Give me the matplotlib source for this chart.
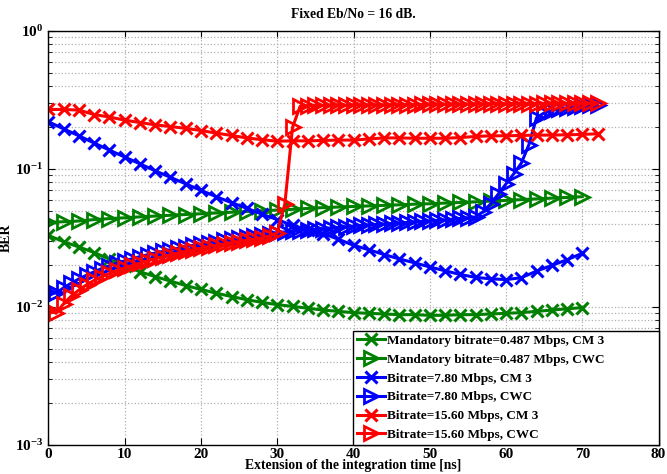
import numpy as np
import matplotlib
matplotlib.use("Agg")
import matplotlib.pyplot as plt
from matplotlib.ticker import LogLocator, FixedLocator, NullFormatter

# Fixed Eb/No = 16 dB -- BER vs extension of the integration time

plt.rcParams['font.family'] = 'Liberation Serif'
plt.rcParams['font.weight'] = 'bold'
plt.rcParams['mathtext.fontset'] = 'custom'
plt.rcParams['mathtext.rm'] = 'Liberation Serif:bold'
plt.rcParams['mathtext.bf'] = 'Liberation Serif:bold'
plt.rcParams['mathtext.it'] = 'Liberation Serif:bold'

# x values (ns)
x_step2 = list(range(0, 71, 2))
x_step2_red = list(range(0, 73, 2))
x_step1 = list(range(0, 73))

green_cm3 = [0.033, 0.0297, 0.0272, 0.0248, 0.0222, 0.0198, 0.0180, 0.0166,
             0.0154, 0.0143, 0.0134, 0.0126, 0.0119, 0.0113, 0.0108, 0.0104,
             0.0101, 0.0098, 0.0095, 0.0093, 0.0091, 0.0090, 0.0089, 0.0088,
             0.0088, 0.0087, 0.0087, 0.0088, 0.0088, 0.0089, 0.0090, 0.0091,
             0.0093, 0.0095, 0.0097, 0.0099]

green_cwc = [0.041, 0.0415, 0.042, 0.043, 0.0437, 0.0443, 0.045, 0.0456,
             0.0462, 0.0468, 0.0474, 0.048, 0.0486, 0.0492, 0.0498, 0.0504,
             0.051, 0.0518, 0.0525, 0.053, 0.0535, 0.054, 0.0545, 0.055,
             0.0556, 0.056, 0.0566, 0.0572, 0.0578, 0.0585, 0.0592, 0.060,
             0.0607, 0.0615, 0.0622, 0.063]

blue_cm3 = [0.22, 0.195, 0.174, 0.154, 0.137, 0.122, 0.109, 0.097, 0.087,
            0.078, 0.070, 0.063, 0.057, 0.052, 0.047, 0.043, 0.039, 0.036,
            0.034, 0.031, 0.028, 0.026, 0.024, 0.0223, 0.0209, 0.0195, 0.0183,
            0.0172, 0.0164, 0.0160, 0.0158, 0.0163, 0.0182, 0.0200, 0.0220,
            0.0245]

blue_cwc = [0.0128, 0.0126, 0.0138, 0.0149, 0.016, 0.017, 0.018, 0.019,
            0.0199, 0.0208, 0.0216, 0.0224, 0.0232, 0.0239, 0.0246, 0.0253,
            0.026, 0.0267, 0.0274, 0.028, 0.0286, 0.0292, 0.0298, 0.0304,
            0.031, 0.0316, 0.0322, 0.0328, 0.0334, 0.034, 0.0346, 0.035,
            0.0354, 0.0358, 0.0362, 0.0366, 0.037, 0.0374, 0.0378, 0.0382,
            0.0386, 0.039, 0.0393, 0.0397, 0.04, 0.0403, 0.0406, 0.041,
            0.0413, 0.0417, 0.042, 0.0424, 0.0428, 0.0433, 0.0438, 0.0443,
            0.0449, 0.049, 0.056, 0.066, 0.078, 0.092, 0.11, 0.15, 0.235,
            0.255, 0.265, 0.272, 0.278, 0.283, 0.287, 0.29, 0.293]

red_cm3 = [0.27, 0.27, 0.267, 0.248, 0.238, 0.226, 0.217, 0.209, 0.203,
           0.197, 0.19, 0.182, 0.175, 0.168, 0.163, 0.159, 0.16, 0.16, 0.161,
           0.162, 0.162, 0.165, 0.168, 0.168, 0.167, 0.167, 0.167, 0.169,
           0.172, 0.174, 0.174, 0.175, 0.176, 0.176, 0.177, 0.178, 0.18]

red_cwc = [0.0095, 0.009, 0.0106, 0.012, 0.0133, 0.0145, 0.0156, 0.0166,
           0.0175, 0.0184, 0.0192, 0.02, 0.0208, 0.0216, 0.0224, 0.0232,
           0.0239, 0.0246, 0.0253, 0.026, 0.0267, 0.0274, 0.028, 0.0286,
           0.0292, 0.0298, 0.0304, 0.031, 0.0318, 0.0326, 0.0345, 0.056,
           0.2, 0.285, 0.288, 0.289, 0.289, 0.29, 0.29, 0.29, 0.291, 0.291,
           0.291, 0.292, 0.292, 0.292, 0.293, 0.293, 0.293, 0.294, 0.294,
           0.294, 0.295, 0.295, 0.295, 0.296, 0.296, 0.296, 0.297, 0.297,
           0.297, 0.298, 0.298, 0.298, 0.298, 0.299, 0.299, 0.299, 0.299,
           0.3, 0.3, 0.3, 0.3]

labels = ['Mandatory bitrate=0.487 Mbps, CM 3',
          'Mandatory bitrate=0.487 Mbps, CWC',
          'Bitrate=7.80 Mbps, CM 3',
          'Bitrate=7.80 Mbps, CWC',
          'Bitrate=15.60 Mbps, CM 3',
          'Bitrate=15.60 Mbps, CWC']

green = '#008000'
blue = '#0000ff'
red = '#ff0000'

fig = plt.figure(figsize=(6.67, 4.74), dpi=100)
ax = fig.add_axes([0.0727, 0.0612, 0.9146, 0.8734])

lw = 2.2
xkw = dict(marker='x', markersize=8, markeredgewidth=2.2, linewidth=lw)
tkw = dict(marker='>', markersize=10, markeredgewidth=2.0,
           markerfacecolor='none', linewidth=lw)

ax.plot(x_step2, green_cm3, color=green, label=labels[0], **xkw)
ax.plot(x_step2, green_cwc, color=green, label=labels[1], **tkw)
ax.plot(x_step2, blue_cm3, color=blue, label=labels[2], **xkw)
ax.plot(x_step1, blue_cwc, color=blue, label=labels[3], **tkw)
ax.plot(x_step2_red, red_cm3, color=red, label=labels[4], **xkw)
ax.plot(x_step1, red_cwc, color=red, label=labels[5], **tkw)

ax.set_yscale('log')
ax.set_xlim(0, 80)
ax.set_ylim(1e-3, 1)
ax.xaxis.set_major_locator(FixedLocator(range(0, 81, 10)))
ax.yaxis.set_major_locator(LogLocator(base=10, numticks=10))
ax.yaxis.set_minor_locator(LogLocator(base=10, subs=np.arange(2, 10), numticks=10))
ax.yaxis.set_minor_formatter(NullFormatter())

ax.grid(True, which='major', linestyle=':', color='#b0b0b0', linewidth=0.9)
ax.grid(True, which='minor', axis='y', linestyle=':', color='#b0b0b0', linewidth=0.9)
ax.tick_params(which='both', direction='in', top=True, right=True, labelsize=11)
ax.tick_params(which='major', length=5)
ax.tick_params(which='minor', length=3)
ax.tick_params(axis='x', pad=2)
for sp in ax.spines.values():
    sp.set_linewidth(1.0)

ax.set_title('Fixed Eb/No = 16 dB.', fontsize=9.8, fontweight='bold', pad=9)
ax.set_xlabel('Extension of the integration time [ns]', fontsize=9.8,
              fontweight='bold', labelpad=-1)
ax.set_ylabel('BER', fontsize=10, fontweight='bold', labelpad=2)

leg = ax.legend(loc='lower left', bbox_to_anchor=(0.499, 0.0, 0.501, 0.3),
                mode='expand', fontsize=9.5, fancybox=False,
                framealpha=1, edgecolor='black', borderaxespad=0,
                handlelength=2.1, labelspacing=0.5, borderpad=0.3,
                handletextpad=0.2)
leg.get_frame().set_linewidth(1.0)

fig.savefig('out.png', dpi=100)
